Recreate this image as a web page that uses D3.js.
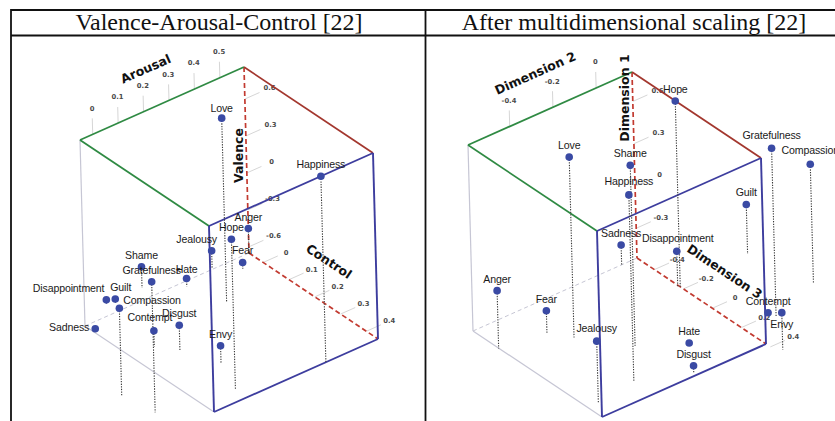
<!DOCTYPE html>
<html>
<head>
<meta charset="utf-8">
<script src="https://cdn.jsdelivr.net/npm/d3@7"></script>
<style>
  body { margin: 0; background: #fff; }
  svg { display: block; }
</style>
</head>
<body>
<svg id="chart" width="835" height="421"></svg>
<script>
// ---- data ---------------------------------------------------------------
const emotions = ["Love", "Happiness", "Anger", "Hope", "Jealousy", "Fear", "Shame",
  "Gratefulness", "Hate", "Disappointment", "Guilt", "Compassion", "Sadness",
  "Contempt", "Disgust", "Envy"];

// Valence-Arousal-Control ratings
const vacArousal = [0.37, 0.39, 0.59, 0.08, 0.455, 0.525, 0.22, -0.19, 0.33, 0.08, 0.10, -0.21, -0.04, 0.04, 0.085, 0.14];
const vacValence = [0.84, 0.86, -0.44, 0.57, -0.51, -0.60, -0.48, 0.41, -0.585, -0.62, -0.61, 0.06, -0.64, -0.52, -0.44, -0.51];
const vacControl = [0.08, 0.445, -0.05, 0.40, -0.06, -0.01, -0.10, 0.355, -0.035, -0.10, -0.085, 0.245, -0.025, 0.125, 0.18, 0.285];

// Multidimensional scaling coordinates
const mdsDim1 = [0.77, 0.81, -0.10, 0.81, -0.07, -0.355, 0.77, 0.68, -0.49, -0.26, -0.16, 0.335, -0.37, -0.49, -0.46, -0.25];
const mdsDim2 = [-0.34, -0.355, -0.595, 0.165, -0.546, -0.395, -0.205, 0.31, -0.055, 0.16, 0.49, 0.55, 0.095, 0.29, -0.155, 0.19];
const mdsDim3 = [-0.20, 0.235, -0.34, -0.22, 0.275, -0.305, 0.02, 0.225, 0.17, -0.23, -0.24, 0.125, -0.52, 0.20, 0.35, 0.45];

// axis ticks
const arousalTicks = [0, 0.1, 0.2, 0.3, 0.4, 0.5];
const valenceTicks = [-0.6, -0.3, 0, 0.3, 0.6];
const controlTicks = [0, 0.1, 0.2, 0.3, 0.4];
const dim2Ticks = [-0.4, -0.2, 0];
const dim1Ticks = [-0.3, 0, 0.3, 0.6];
const dim3Ticks = [-0.4, -0.2, 0, 0.2, 0.4];

const panelTitles = ["Valence-Arousal-Control [22]", "After multidimensional scaling [22]"];

// ---- layout -------------------------------------------------------------
const svg = d3.select("#chart");
const W = 835, H = 421;

// screen vectors of the three box directions (oblique view)
const VEC_A = [164, -73];   // depth axis (left corner -> back corner)
const VEC_C = [129, 86];    // right axis (back corner -> right corner)
const VEC_V = [-5, -186];   // vertical axis
const lenA = Math.hypot(VEC_A[0], VEC_A[1]);
const UA = [VEC_A[0] / lenA, VEC_A[1] / lenA];
const lenV = Math.hypot(VEC_V[0], VEC_V[1]);
const UV = [VEC_V[0] / lenV, VEC_V[1] / lenV];
const angA = Math.atan2(VEC_A[1], VEC_A[0]) * 180 / Math.PI;
const angC = Math.atan2(VEC_C[1], VEC_C[0]) * 180 / Math.PI;

const COL = {
  green: "#2f8a43",
  darkRed: "#a3372e",
  redDash: "#c23a30",
  blue: "#3d3d9e",
  grey: "#c6c6d4",
  tick: "#d6d6d6",
  dot: "#3a4aa4",
  drop: "#3a3a3a"
};

// ---- table frame and headers -------------------------------------------
const frame = svg.append("g").attr("stroke", "#111").attr("stroke-width", 1.8);
frame.append("line").attr("x1", 11).attr("x2", W).attr("y1", 10).attr("y2", 10);
frame.append("line").attr("x1", 11).attr("x2", W).attr("y1", 35.5).attr("y2", 35.5);
frame.append("line").attr("x1", 11).attr("x2", 11).attr("y1", 9).attr("y2", H);
frame.append("line").attr("x1", 425.5).attr("x2", 425.5).attr("y1", 9).attr("y2", H);

svg.selectAll("text.head").data(panelTitles).join("text")
  .attr("class", "head")
  .attr("x", (d, i) => i === 0 ? 219 : 634)
  .attr("y", 30)
  .attr("text-anchor", "middle")
  .attr("font-family", "'Liberation Serif', 'DejaVu Serif', serif")
  .attr("font-size", 24)
  .attr("fill", "#111")
  .text(d => d);

// ---- one 3-D panel ------------------------------------------------------
function drawPanel(cfg) {
  const g = svg.append("g");
  const sa = d3.scaleLinear().domain(cfg.domA).range([0, 1]);
  const sv = d3.scaleLinear().domain(cfg.domV).range([0, 1]);
  const sc = d3.scaleLinear().domain(cfg.domC).range([0, 1]);
  const o = cfg.origin;
  const P = (a, v, c) => {
    const fa = sa(a), fv = sv(v), fc = sc(c);
    return [o[0] + fa * VEC_A[0] + fc * VEC_C[0] + fv * VEC_V[0],
            o[1] + fa * VEC_A[1] + fc * VEC_C[1] + fv * VEC_V[1]];
  };
  const [a0, a1] = cfg.domA, [v0, v1] = cfg.domV, [c0, c1] = cfg.domC;

  // box edges, back to front
  const edges = [
    { p: [P(a0, v0, c0), P(a1, v0, c0)], col: COL.grey, w: 1, dash: "4,3" },
    { p: [P(a0, v1, c0), P(a0, v0, c0)], col: COL.grey, w: 1.2 },
    { p: [P(a0, v0, c0), P(a0, v0, c1)], col: COL.grey, w: 1.2 },
    { p: [P(a1, v1, c0), P(a1, v0, c0)], col: COL.redDash, w: 1.7, dash: "5,3" },
    { p: [P(a1, v0, c0), P(a1, v0, c1)], col: COL.redDash, w: 1.7, dash: "5,3" },
    { p: [P(a0, v1, c0), P(a1, v1, c0)], col: COL.green, w: 1.7 },
    { p: [P(a0, v1, c0), P(a0, v1, c1)], col: COL.green, w: 1.7 },
    { p: [P(a1, v1, c0), P(a1, v1, c1)], col: COL.darkRed, w: 1.7 },
    { p: [P(a0, v1, c1), P(a1, v1, c1)], col: COL.blue, w: 1.9 },
    { p: [P(a1, v1, c1), P(a1, v0, c1)], col: COL.blue, w: 1.9 },
    { p: [P(a1, v0, c1), P(a0, v0, c1)], col: COL.blue, w: 1.9 },
    { p: [P(a0, v0, c1), P(a0, v1, c1)], col: COL.blue, w: 1.9 }
  ];

  // tick marks and their labels, pointing away from the box
  const tickG = g.append("g");
  const tickFont = { family: "'DejaVu Sans', Verdana, sans-serif", size: 6.8 };
  function tickSet(vals, edgePt, dir, len, lab) {
    vals.forEach(t => {
      const e = edgePt(t);
      tickG.append("line")
        .attr("x1", e[0]).attr("y1", e[1])
        .attr("x2", e[0] + dir[0] * len).attr("y2", e[1] + dir[1] * len)
        .attr("stroke", COL.tick).attr("stroke-width", 1);
      tickG.append("text")
        .attr("x", e[0] + dir[0] * lab).attr("y", e[1] + dir[1] * lab + 2.4)
        .attr("text-anchor", "middle")
        .attr("font-family", tickFont.family).attr("font-size", tickFont.size)
        .attr("font-weight", "bold").attr("fill", "#4a4a4a")
        .text(String(t));
    });
  }
  tickSet(cfg.ticksA, t => P(t, v1, c0), UV, 16, 26);
  tickSet(cfg.ticksV, t => P(a1, t, c0), UA, 16, 27);
  tickSet(cfg.ticksC, t => P(a1, v0, t), UA, 16, 25);

  g.selectAll("line.edge").data(edges).join("line")
    .attr("class", "edge")
    .attr("x1", d => d.p[0][0]).attr("y1", d => d.p[0][1])
    .attr("x2", d => d.p[1][0]).attr("y2", d => d.p[1][1])
    .attr("stroke", d => d.col).attr("stroke-width", d => d.w)
    .attr("stroke-dasharray", d => d.dash || null);

  // axis titles
  const lerp = (p, q, t) => [p[0] + (q[0] - p[0]) * t, p[1] + (q[1] - p[1]) * t];
  const titleSpecs = [
    { text: cfg.titles[0], at: lerp(P(a0, v1, c0), P(a1, v1, c0), cfg.titlePos[0]), off: [0, -42], rot: angA },
    { text: cfg.titles[1], at: lerp(P(a1, v1, c0), P(a1, v0, c0), cfg.titlePos[1]), off: [-8, 0], rot: -90 },
    { text: cfg.titles[2], at: lerp(P(a1, v0, c0), P(a1, v0, c1), cfg.titlePos[2]), off: [0, -45], rot: angC }
  ];
  g.selectAll("text.axt").data(titleSpecs).join("text")
    .attr("class", "axt")
    .attr("transform", d => `translate(${d.at[0] + d.off[0]},${d.at[1] + d.off[1]}) rotate(${d.rot})`)
    .attr("text-anchor", "middle")
    .attr("dominant-baseline", "central")
    .attr("font-family", "'DejaVu Sans', Verdana, sans-serif")
    .attr("font-weight", "bold")
    .attr("font-size", 12.5)
    .attr("fill", "#111")
    .text(d => d.text);

  // points with drop lines to the floor
  const pts = emotions.map((name, i) => ({
    name,
    top: P(cfg.a[i], cfg.v[i], cfg.c[i]),
    floor: P(cfg.a[i], v0, cfg.c[i])
  }));

  g.selectAll("line.drop").data(pts).join("line")
    .attr("class", "drop")
    .attr("x1", d => d.top[0]).attr("y1", d => d.top[1])
    .attr("x2", d => d.floor[0]).attr("y2", d => d.floor[1])
    .attr("stroke", COL.drop).attr("stroke-width", 1.1)
    .attr("stroke-dasharray", "1.3,1.3");

  g.selectAll("circle.pt").data(pts).join("circle")
    .attr("class", "pt")
    .attr("cx", d => d.top[0]).attr("cy", d => d.top[1])
    .attr("r", 3.8)
    .attr("fill", COL.dot);

  g.selectAll("text.lbl").data(pts).join("text")
    .attr("class", "lbl")
    .each(function (d) {
      const n = Object.assign({ dx: 0, dy: -8, anchor: "middle" }, cfg.nudges[d.name] || {});
      d3.select(this)
        .attr("x", d.top[0] + n.dx)
        .attr("y", d.top[1] + n.dy)
        .attr("text-anchor", n.anchor);
    })
    .attr("font-family", "'Liberation Sans', Arial, sans-serif")
    .attr("font-size", 10.6)
    .attr("letter-spacing", -0.15)
    .attr("fill", "#1a1a1a")
    .text(d => d.name);
}

drawPanel({
  origin: [85, 326],
  domA: [-0.05, 0.595], domV: [-0.65, 0.86], domC: [-0.055, 0.445],
  ticksA: arousalTicks, ticksV: valenceTicks, ticksC: controlTicks,
  titles: ["Arousal", "Valence", "Control"],
  titlePos: [0.40, 0.476, 0.62],
  a: vacArousal, v: vacValence, c: vacControl,
  nudges: {
    Love: { dy: -6 },
    Jealousy: { dx: -15 },
    Disappointment: { anchor: "end", dx: -2 },
    Guilt: { dx: 5.5 },
    Compassion: { anchor: "start", dx: 4, dy: -4.5 },
    Sadness: { anchor: "end", dx: -6, dy: 2 },
    Contempt: { dx: -4, dy: -10 },
    Hate: { dy: -5 },
    Fear: { dy: -9 }
  }
});

drawPanel({
  origin: [473, 331],
  domA: [-0.593, 0.166], domV: [-0.511, 0.809], domC: [-0.52, 0.37],
  ticksA: dim2Ticks, ticksV: dim1Ticks, ticksC: dim3Ticks,
  titles: ["Dimension 2", "Dimension 1", "Dimension 3"],
  titlePos: [0.41, 0.14, 0.68],
  a: mdsDim2, v: mdsDim1, c: mdsDim3,
  nudges: {
    Envy: { dy: 15 },
    Compassion: { dy: -10 },
    Happiness: { dy: -10 },
    Gratefulness: { dy: -9 },
    Disappointment: { dx: 1, dy: -9.4 },
    Jealousy: { dy: -9.4 }
  }
});
</script>
</body>
</html>
